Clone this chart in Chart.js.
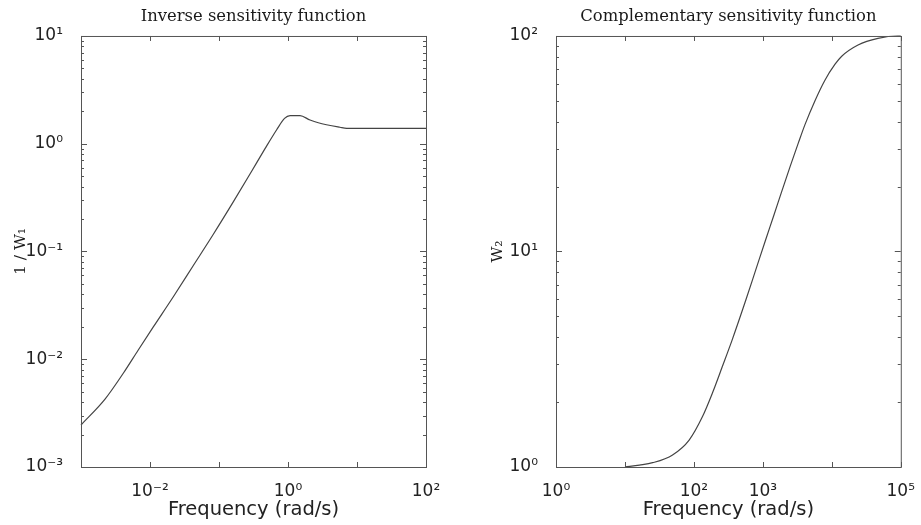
<!DOCTYPE html>
<html>
<head>
<meta charset="utf-8">
<title>Sensitivity weights</title>
<script src="https://cdn.jsdelivr.net/npm/chart.js@4.4.1/dist/chart.umd.min.js"></script>
<style>
  body { margin: 0; background: #fff; }
  #wrap { position: relative; width: 921px; height: 525px; }
  #leftPlot { position: absolute; left: 0; top: 0; }
  #rightPlot { position: absolute; left: 460px; top: 0; }
</style>
</head>
<body>
<div id="wrap">
  <canvas id="leftPlot" width="460" height="525"></canvas>
  <canvas id="rightPlot" width="461" height="525"></canvas>
</div>
<script>
// values (rad/s vs magnitude)
const leftFreq = [0.001, 0.00223, 0.0041, 0.00676, 0.01117, 0.02178, 0.04246, 0.08279, 0.161, 0.2972, 0.4645, 0.6855, 0.891, 1.072, 1.493, 2.084, 2.748, 5.675, 7.079, 100];
const leftMag = [0.002455, 0.004266, 0.007413, 0.01219, 0.01995, 0.03802, 0.07413, 0.1445, 0.2884, 0.5559, 0.9, 1.349, 1.718, 1.82, 1.82, 1.66, 1.567, 1.422, 1.39, 1.39];

const rightFreq = [10, 16.2, 25.2, 49.0, 85.3, 132.7, 184.9, 257.6, 358.9, 559.8, 779.8, 1086, 1432, 1884, 2489, 3281, 4093, 5702, 7943, 11070, 13800, 23990, 46670, 90570, 100000];
const rightMag = [1.0, 1.021, 1.047, 1.138, 1.334, 1.71, 2.198, 2.917, 3.89, 5.888, 8.128, 11.22, 14.62, 19.05, 24.83, 31.99, 38.9, 50.12, 62.37, 73.79, 80.35, 90.78, 97.5, 100, 100];

// axis ranges (decade exponents) and which decades carry a label
const leftXRange = [-3, 2];
const leftYRange = [-3, 1];
const rightXRange = [0, 5];
const rightYRange = [0, 2];
const leftXLabels = [-2, 0, 2];
const leftYLabels = [-3, -2, -1, 0, 1];
const rightXLabels = [0, 2, 3, 5];
const rightYLabels = [0, 1, 2];

const SUP = { '-': '⁻', '0': '⁰', '1': '¹', '2': '²', '3': '³', '4': '⁴', '5': '⁵', '6': '⁶', '7': '⁷', '8': '⁸', '9': '⁹' };
const sup = (n) => String(n).split('').map((c) => SUP[c]).join('');
const decadeOf = (v) => {
    const e = Math.log10(v);
    return Math.abs(e - Math.round(e)) < 1e-9 ? Math.round(e) : null;
};

function logTicks(range, withMinor) {
    const out = [];
    for (let e = range[0]; e <= range[1]; e++) {
        const steps = withMinor && e < range[1] ? [1, 2, 3, 4, 5, 6, 7, 8, 9] : [1];
        steps.forEach((m) => out.push({ value: m * Math.pow(10, e) }));
    }
    return out;
}

// MATLAB-style box with inward ticks on all four sides
const boxTicks = {
    id: 'boxTicks',
    afterDatasetsDraw(chart) {
        const { ctx, chartArea: a, scales: { x, y } } = chart;
        ctx.save();
        ctx.strokeStyle = '#555';
        ctx.lineWidth = 1;
        ctx.strokeRect(a.left + 0.5, a.top + 0.5, a.width, a.height);
        ctx.beginPath();
        x.ticks.forEach((t) => {
            const px = Math.round(x.getPixelForValue(t.value)) + 0.5;
            const len = decadeOf(t.value) !== null ? 5 : 3;
            ctx.moveTo(px, a.bottom); ctx.lineTo(px, a.bottom - len);
            ctx.moveTo(px, a.top); ctx.lineTo(px, a.top + len);
        });
        y.ticks.forEach((t) => {
            const py = Math.round(y.getPixelForValue(t.value)) + 0.5;
            const len = decadeOf(t.value) !== null ? 6 : 3;
            ctx.moveTo(a.left, py); ctx.lineTo(a.left + len, py);
            ctx.moveTo(a.right, py); ctx.lineTo(a.right - len, py);
        });
        ctx.stroke();
        ctx.restore();
    }
};

Chart.defaults.font.family = 'DejaVu Sans';
Chart.defaults.color = '#222';

function makePlot(canvasId, cfg) {
    const tickFont = { family: 'DejaVu Sans', size: 17 };
    return new Chart(document.getElementById(canvasId), {
        type: 'line',
        data: {
            datasets: [{
                data: cfg.freq.map((f, i) => ({ x: f, y: cfg.mag[i] })),
                borderColor: '#444',
                borderWidth: 1.2,
                pointRadius: 0,
                fill: false,
                cubicInterpolationMode: 'monotone',
                clip: 2
            }]
        },
        options: {
            responsive: false,
            animation: false,
            layout: { padding: { left: 0, right: cfg.padRight, top: 0, bottom: 0 } },
            plugins: {
                legend: { display: false },
                tooltip: { enabled: false },
                title: {
                    display: true,
                    fullSize: false,
                    text: cfg.title,
                    color: '#1a1a1a',
                    font: { family: 'DejaVu Serif', size: 16.4, weight: 'normal' },
                    padding: { top: 7, bottom: 9.3 }
                }
            },
            scales: {
                x: {
                    type: 'logarithmic',
                    min: Math.pow(10, cfg.xRange[0]),
                    max: Math.pow(10, cfg.xRange[1]),
                    afterBuildTicks: (s) => { s.ticks = logTicks(cfg.xRange, false); },
                    afterFit: (s) => { s.height = 58; },
                    grid: { display: false },
                    border: { display: false },
                    ticks: {
                        autoSkip: false,
                        maxRotation: 0,
                        padding: 6,
                        font: tickFont,
                        color: '#222',
                        callback: (v) => {
                            const e = decadeOf(v);
                            return e !== null && cfg.xLabels.includes(e) ? '10' + sup(e) : '';
                        }
                    },
                    title: {
                        display: true,
                        text: 'Frequency (rad/s)',
                        color: '#222',
                        font: { family: 'DejaVu Sans', size: 19.5 },
                        padding: { top: 0, bottom: 3 }
                    }
                },
                y: {
                    type: 'logarithmic',
                    min: Math.pow(10, cfg.yRange[0]),
                    max: Math.pow(10, cfg.yRange[1]),
                    afterBuildTicks: (s) => { s.ticks = logTicks(cfg.yRange, true); },
                    afterFit: (s) => { s.width = cfg.yWidth; },
                    grid: { display: false },
                    border: { display: false },
                    ticks: {
                        autoSkip: false,
                        padding: 10,
                        font: tickFont,
                        color: '#222',
                        callback: (v) => {
                            const e = decadeOf(v);
                            return e !== null && cfg.yLabels.includes(e) ? '10' + sup(e) : '';
                        }
                    },
                    title: {
                        display: true,
                        text: cfg.yTitle,
                        color: '#1a1a1a',
                        font: { family: 'DejaVu Serif', size: 15.5 },
                        padding: { top: cfg.yTitlePad, bottom: 0 }
                    }
                }
            }
        },
        plugins: [boxTicks]
    });
}

makePlot('leftPlot', {
    freq: leftFreq, mag: leftMag,
    xRange: leftXRange, yRange: leftYRange,
    xLabels: leftXLabels, yLabels: leftYLabels,
    title: 'Inverse sensitivity function',
    yTitle: '1 / W₁',
    yWidth: 81, padRight: 34, yTitlePad: 12
});

makePlot('rightPlot', {
    freq: rightFreq, mag: rightMag,
    xRange: rightXRange, yRange: rightYRange,
    xLabels: rightXLabels, yLabels: rightYLabels,
    title: 'Complementary sensitivity function',
    yTitle: 'W₂',
    yWidth: 96, padRight: 18, yTitlePad: 29
});
</script>
</body>
</html>
